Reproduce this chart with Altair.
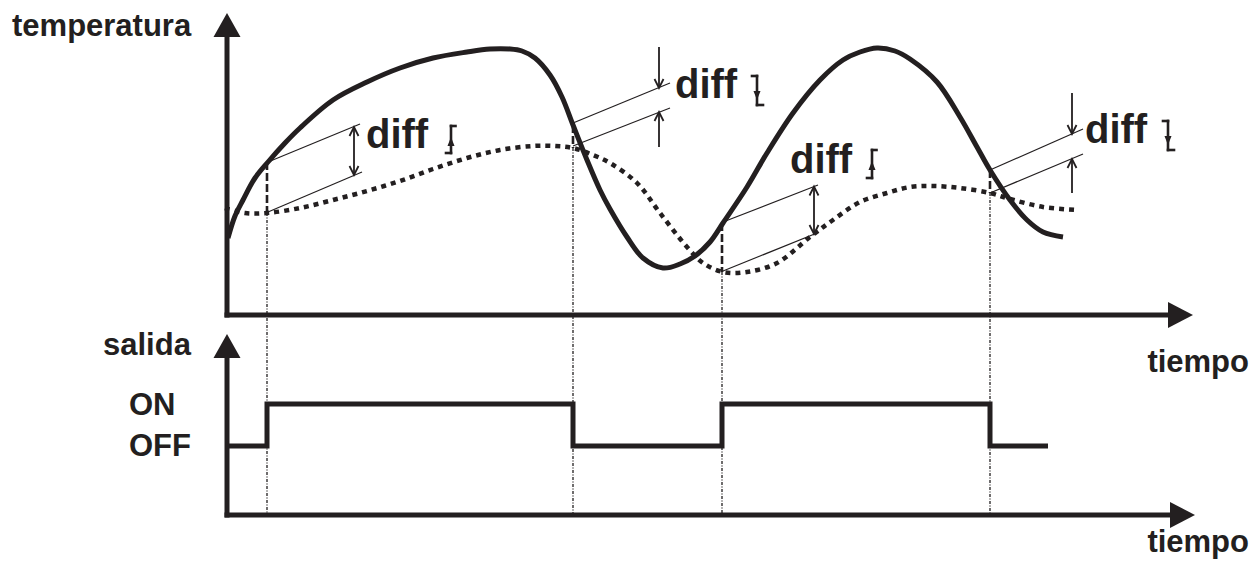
import altair as alt
import pandas as pd

INK = "#231f20"
FONT = "Liberation Sans"

# ---------------- data (tiempo units / temperature units) ----------------
# measured temperature (solid curve)
temp_t = [0.1, 0.8, 1.6, 2.8, 4.1, 5.8, 7.3, 10.6, 14.0, 17.3, 20.6, 24.0, 26.3, 28.3,
          29.5, 30.8, 32.3, 33.5, 34.6, 36.0, 37.3, 38.3, 40.0, 41.6, 43.6, 45.3, 46.8,
          48.3, 49.6, 52.0, 54.0, 56.6, 59.3, 61.6, 63.3, 65.0, 66.8, 68.3, 71.0, 73.3,
          75.0, 76.3, 78.3, 80.0, 81.6, 83.6]
temp_v = [7.7, 9.9, 11.5, 13.7, 15.3, 17.2, 18.7, 21.5, 23.3, 24.7, 25.7, 26.3, 26.6, 26.6,
          26.4, 25.7, 24.0, 21.8, 19.0, 15.5, 12.5, 10.6, 7.8, 5.7, 4.7, 5.1, 5.9,
          7.3, 9.2, 12.8, 16.2, 20.2, 23.5, 25.5, 26.3, 26.7, 26.4, 25.6, 23.3, 19.8,
          16.8, 14.5, 11.5, 9.5, 8.3, 7.8]

# set point (dotted curve)
sp_t = [-0.2, 1.8, 4.0, 7.3, 10.6, 14.0, 17.3, 20.6, 24.0, 27.3, 30.6, 32.8, 34.6, 36.6,
        38.3, 41.0, 43.3, 46.0, 47.6, 49.6, 52.0, 55.0, 58.3, 60.6, 63.3, 66.0, 68.3,
        70.6, 73.3, 76.3, 78.3, 81.6, 85.1]
sp_v = [10.7, 10.2, 10.2, 10.7, 11.5, 12.4, 13.4, 14.6, 15.7, 16.5, 16.9, 16.9, 16.7, 16.0,
        15.2, 13.2, 10.2, 6.8, 5.2, 4.3, 4.3, 5.2, 7.8, 9.5, 11.3, 12.2, 12.8,
        12.9, 12.7, 12.2, 11.6, 10.8, 10.5]

# output (salida)
out_t = [0.0, 4.0, 34.6, 49.5, 76.3, 82.1]
out_state = ["OFF", "ON", "OFF", "ON", "OFF", "OFF"]
out_level = {"ON": -8.9, "OFF": -13.1}

# switching instants, temperature at switching, set point at switching
sw_t = [4.0, 34.6, 49.5, 76.3]
sw_temp = [15.3, 19.0, 9.2, 14.5]
sw_sp = [10.2, 16.7, 4.3, 12.2]
out_axis_v = -20.0

# diff hint lines (start t, start v, end t, end v)
hint_upper = [(4.1, 15.3, 13.3, 19.1), (34.6, 19.2, 44.3, 23.2),
              (49.6, 9.3, 59.1, 13.0), (76.3, 14.5, 85.6, 18.6)]
hint_lower = [(4.1, 10.3, 13.5, 14.3), (34.6, 16.9, 44.3, 20.7),
              (49.6, 4.4, 59.0, 8.2), (76.3, 12.2, 85.6, 16.1)]

# dimension arrows: (t, from v, tip v)
arrows = [(12.7, 16.4, 18.8), (12.7, 16.4, 14.0),
          (43.2, 26.8, 22.7), (43.2, 16.8, 20.3),
          (58.7, 10.5, 12.85), (58.7, 10.5, 8.1),
          (84.5, 22.2, 18.1), (84.5, 12.2, 15.6)]

# diff labels
diff_t = [13.9, 44.8, 56.3, 85.8]
diff_v = [16.7, 21.7, 14.2, 17.2]
diff_dir = ["up", "down", "up", "down"]
# step-symbol after each label: (t of stem, top v, bottom v, arrow tip v)
sym = [(22.4, 18.9, 16.2, 17.8), (53.0, 23.9, 21.0, 21.5),
       (64.5, 16.5, 13.7, 15.4), (94.1, 19.4, 16.5, 17.0)]

# axes: (t, v, t2, v2)
axes = [(0, 0, 0, 28.0), (0, 0, 94.5, 0), (0, out_axis_v, 0, -4.2), (0, out_axis_v, 94.7, out_axis_v)]
axis_tips = [(0, 30.2, "up"), (96.6, 0, "right"), (0, -1.9, "up"), (96.8, out_axis_v, "right")]

labels = pd.DataFrame({
    "t": [-21.5, -12.4, -9.8, -9.8],
    "v": [27.9, -4.0, -10.0, -14.1],
    "txt": ["temperatura", "salida", "ON", "OFF"],
})
labels_r = pd.DataFrame({"t": [102.2, 102.2], "v": [-5.7, -23.7], "txt": ["tiempo", "tiempo"]})

# ---------------- scales ----------------
xs = alt.Scale(domain=[-21.9, 102.4], nice=False, zero=False)
ys = alt.Scale(domain=[-24.5, 30.7], nice=False, zero=False)


def X(f="t"):
    return alt.X(f, type="quantitative", scale=xs, axis=None)


def Y(f="v"):
    return alt.Y(f, type="quantitative", scale=ys, axis=None)


def X2(f="t2"):
    return alt.X2(f)


def Y2(f="v2"):
    return alt.Y2(f)


def segs(rows):
    return pd.DataFrame(rows, columns=["t", "v", "t2", "v2"])


# ---------------- layers ----------------
temp_df = pd.DataFrame({"t": temp_t, "v": temp_v})
sp_df = pd.DataFrame({"t": sp_t, "v": sp_v})
out_df = pd.DataFrame({"t": out_t, "v": [out_level[s] for s in out_state]})

solid = alt.Chart(temp_df).mark_line(interpolate="catmull-rom", strokeWidth=5, color=INK).encode(x=X(), y=Y())
dotted = alt.Chart(sp_df).mark_line(interpolate="catmull-rom", strokeWidth=4.5, strokeDash=[5, 5],
                                    strokeCap="butt", color=INK).encode(x=X(), y=Y())
step = alt.Chart(out_df).mark_line(interpolate="step-after", strokeWidth=5, color=INK,
                                   strokeCap="butt").encode(x=X(), y=Y())

axes_l = alt.Chart(segs(axes)).mark_rule(strokeWidth=5, color=INK, strokeCap="square").encode(
    x=X(), y=Y(), x2=X2(), y2=Y2())
tip_shape = {"up": "M0,0L-13.5,24L13.5,24Z", "right": "M0,0L-25,-13L-25,13Z"}
tips_df = pd.DataFrame({"t": [a[0] for a in axis_tips], "v": [a[1] for a in axis_tips],
                        "shape": [tip_shape[a[2]] for a in axis_tips]})
tips_l = alt.Chart(tips_df).mark_point(filled=True, size=4, opacity=1, color=INK, strokeWidth=0).encode(
    x=X(), y=Y(), shape=alt.Shape("shape:N", scale=None))

guide_thin = alt.Chart(segs([(t, s, t, out_axis_v) for t, s in zip(sw_t, sw_sp)])).mark_rule(
    strokeWidth=1.3, strokeDash=[3, 1.5, 1, 1.5], color=INK).encode(x=X(), y=Y(), x2=X2(), y2=Y2())
guide_thick = alt.Chart(segs([(t, a, t, b) for t, a, b in zip(sw_t, sw_temp, sw_sp)])).mark_rule(
    strokeWidth=2.6, strokeDash=[8, 3], color=INK).encode(x=X(), y=Y(), x2=X2(), y2=Y2())

hints = alt.Chart(segs(hint_upper + hint_lower)).mark_rule(strokeWidth=1.2, color=INK).encode(
    x=X(), y=Y(), x2=X2(), y2=Y2())

shafts = alt.Chart(segs([(t, a, t, b) for t, a, b in arrows])).mark_rule(strokeWidth=1.8, color=INK).encode(
    x=X(), y=Y(), x2=X2(), y2=Y2())
head_df = pd.DataFrame({"t": [a[0] for a in arrows], "v": [a[2] for a in arrows],
                        "shape": ["M-4.5,9L0,0L4.5,9" if a[2] > a[1] else "M-4.5,-9L0,0L4.5,-9" for a in arrows]})
heads = alt.Chart(head_df).mark_point(filled=False, size=4, opacity=1, color=INK, strokeWidth=1.8).encode(
    x=X(), y=Y(), shape=alt.Shape("shape:N", scale=None))

sym_rows = []
sym_tip = []
for (t, top, bot, tipv), d in zip(sym, diff_dir):
    sym_rows.append((t, top, t, bot))
    if d == "up":
        sym_rows.append((t, top, t + 0.45, top))
        sym_rows.append((t - 0.5, bot, t, bot))
        sym_tip.append((t, tipv, "M0,0L-3.5,9L3.5,9Z"))
    else:
        sym_rows.append((t - 0.5, top, t, top))
        sym_rows.append((t, bot, t + 0.6, bot))
        sym_tip.append((t, tipv, "M0,0L-3.5,-9L3.5,-9Z"))
sym_l = alt.Chart(segs(sym_rows)).mark_rule(strokeWidth=2.6, color=INK, strokeCap="square").encode(
    x=X(), y=Y(), x2=X2(), y2=Y2())
sym_tip_df = pd.DataFrame(sym_tip, columns=["t", "v", "shape"])
sym_tips = alt.Chart(sym_tip_df).mark_point(filled=True, size=4, opacity=1, color=INK, strokeWidth=0).encode(
    x=X(), y=Y(), shape=alt.Shape("shape:N", scale=None))

diff_df = pd.DataFrame({"t": diff_t, "v": diff_v, "txt": ["diff"] * 4})
diff_l = alt.Chart(diff_df).mark_text(align="left", baseline="alphabetic", font=FONT,
                                      fontWeight="bold", fontSize=40, color=INK).encode(
    x=X(), y=Y(), text="txt:N")

text_l = alt.Chart(labels).mark_text(align="left", baseline="alphabetic", font=FONT, fontWeight="bold",
                                     fontSize=31, color=INK).encode(x=X(), y=Y(), text="txt:N")
text_r = alt.Chart(labels_r).mark_text(align="right", baseline="alphabetic", font=FONT, fontWeight="bold",
                                       fontSize=31, color=INK).encode(x=X(), y=Y(), text="txt:N")

chart = alt.layer(
    guide_thin, guide_thick, hints, dotted, solid, step, axes_l, tips_l,
    shafts, heads, sym_l, sym_tips, diff_l, text_l, text_r,
).properties(
    width=1243, height=552, autosize=alt.AutoSizeParams(type="none"), padding=0,
    background="white",
).configure_view(stroke=None)

chart.save("out.html", embed_options={"renderer": "svg", "actions": False})
